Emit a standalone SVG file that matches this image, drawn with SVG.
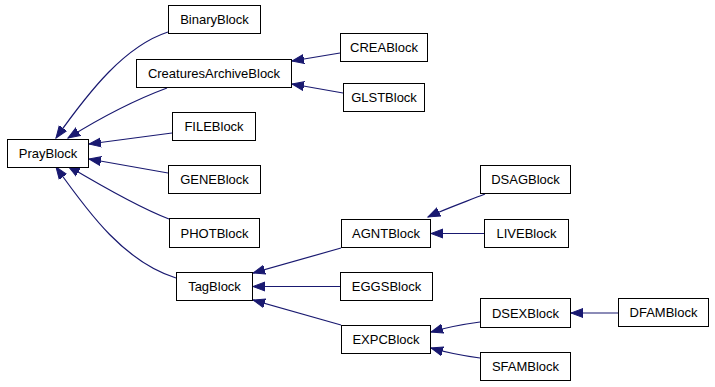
<svg xmlns="http://www.w3.org/2000/svg" width="715" height="387" viewBox="0 0 715 387">
  <style>
    .node rect { fill: #ffffff; stroke: #000000; stroke-width: 1; }
    .node text { font-family: "Liberation Sans", Arial, Helvetica, sans-serif; font-size: 13px; fill: #000000; text-anchor: middle; }
    .edges path { fill: none; stroke: #191970; stroke-width: 1.2; marker-end: url(#arrow); }
  </style>
  <defs>
    <marker id="arrow" markerUnits="userSpaceOnUse" markerWidth="14" markerHeight="12" viewBox="0 -6 14 12" refX="12" refY="0" orient="auto">
      <path d="M0,-4.5 L12,0 L0,4.5 z" fill="#191970" stroke="#191970" stroke-width="1"/>
    </marker>
  </defs>
  <rect width="715" height="387" fill="#ffffff"/>

  <!-- inheritance edges: child -> parent -->
  <g id="edges" class="edges">
    <path d="M168,32 C125,46 90,90 56,138"/>
    <path d="M167,88 C140,98 105,115 68,138"/>
    <path d="M172,133 L89,144"/>
    <path d="M168,173 L89,159"/>
    <path d="M169,219 C140,208 105,188 68,166"/>
    <path d="M176,278 C125,262 90,215 56,167"/>
    <path d="M340,53 L292,61"/>
    <path d="M343,93 L292,84"/>
    <path d="M341,248 L253,273"/>
    <path d="M340,286.5 L253,286.5"/>
    <path d="M341,325 L253,300"/>
    <path d="M485,194 C465,202 445,209 428,217"/>
    <path d="M484,233.5 L431,233.5"/>
    <path d="M480,322 C465,324 448,327 431,332"/>
    <path d="M480,358 C465,356 448,353 431,348"/>
    <path d="M618,313 L571,313"/>
  </g>

  <g id="PrayBlock" class="node"><rect x="7.5" y="139.5" width="81" height="28"/><text x="48" y="158">PrayBlock</text></g>
  <g id="BinaryBlock" class="node"><rect x="168.5" y="5.5" width="92" height="28"/><text x="214.5" y="24">BinaryBlock</text></g>
  <g id="CreaturesArchiveBlock" class="node"><rect x="136.5" y="59.5" width="155" height="28"/><text x="214" y="78">CreaturesArchiveBlock</text></g>
  <g id="FILEBlock" class="node"><rect x="172.5" y="112.5" width="83" height="28"/><text x="214" y="131">FILEBlock</text></g>
  <g id="GENEBlock" class="node"><rect x="168.5" y="165.5" width="92" height="28"/><text x="214.5" y="184">GENEBlock</text></g>
  <g id="PHOTBlock" class="node"><rect x="169.5" y="218.5" width="90" height="29"/><text x="214.5" y="237.5">PHOTBlock</text></g>
  <g id="TagBlock" class="node"><rect x="176.5" y="272.5" width="76" height="28"/><text x="214.5" y="291">TagBlock</text></g>
  <g id="CREABlock" class="node"><rect x="340.5" y="33.5" width="87" height="28"/><text x="384" y="52">CREABlock</text></g>
  <g id="GLSTBlock" class="node"><rect x="343.5" y="83.5" width="81" height="28"/><text x="384" y="102">GLSTBlock</text></g>
  <g id="AGNTBlock" class="node"><rect x="341.5" y="219.5" width="89" height="28"/><text x="386" y="238">AGNTBlock</text></g>
  <g id="EGGSBlock" class="node"><rect x="340.5" y="272.5" width="92" height="28"/><text x="386.5" y="291">EGGSBlock</text></g>
  <g id="EXPCBlock" class="node"><rect x="341.5" y="325.5" width="89" height="28"/><text x="386" y="344">EXPCBlock</text></g>
  <g id="DSAGBlock" class="node"><rect x="480.5" y="165.5" width="90" height="28"/><text x="525.5" y="184">DSAGBlock</text></g>
  <g id="LIVEBlock" class="node"><rect x="484.5" y="219.5" width="84" height="28"/><text x="526.5" y="238">LIVEBlock</text></g>
  <g id="DSEXBlock" class="node"><rect x="480.5" y="298.5" width="90" height="29"/><text x="525.5" y="317.5">DSEXBlock</text></g>
  <g id="SFAMBlock" class="node"><rect x="480.5" y="352.5" width="90" height="28"/><text x="525.5" y="371">SFAMBlock</text></g>
  <g id="DFAMBlock" class="node"><rect x="618.5" y="298.5" width="90" height="28"/><text x="663.5" y="317">DFAMBlock</text></g>
</svg>
